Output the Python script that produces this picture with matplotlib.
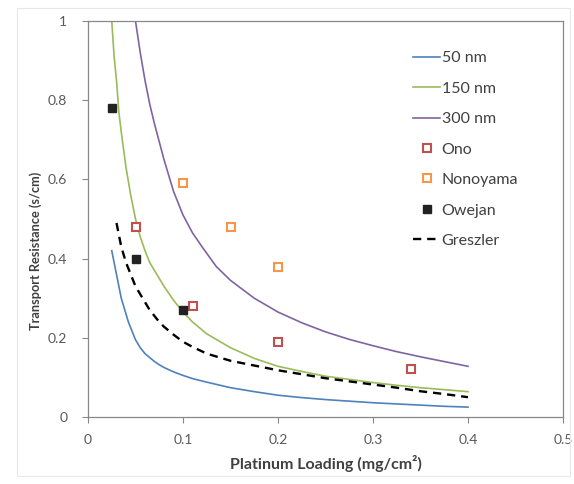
import matplotlib
matplotlib.use("Agg")
import matplotlib.pyplot as plt
from matplotlib.patches import Rectangle

plt.rcParams['font.family'] = ['Lato', 'DejaVu Sans']

# Model curves (platinum loading mg/cm2 -> transport resistance s/cm)
x_50 = [0.025, 0.0275, 0.03, 0.0325, 0.035, 0.0375, 0.04, 0.0425, 0.045, 0.0475, 0.05, 0.055, 0.06, 0.065, 0.07,
        0.075, 0.08, 0.09, 0.1, 0.11, 0.125, 0.15, 0.175, 0.2, 0.225, 0.25, 0.275, 0.3, 0.325, 0.35, 0.375, 0.4]
y_50 = [0.42, 0.39, 0.36, 0.33, 0.30, 0.28, 0.26, 0.24, 0.225, 0.21, 0.195, 0.175, 0.16, 0.15, 0.14,
        0.132, 0.125, 0.114, 0.105, 0.097, 0.088, 0.074, 0.064, 0.055, 0.049, 0.044, 0.040, 0.036, 0.033, 0.030, 0.027, 0.025]

x_150 = [0.024, 0.025, 0.0275, 0.03, 0.0325, 0.035, 0.04, 0.045, 0.05, 0.055, 0.06, 0.065, 0.07, 0.08, 0.09, 0.1,
         0.11, 0.125, 0.15, 0.175, 0.2, 0.225, 0.25, 0.275, 0.3, 0.325, 0.35, 0.375, 0.4]
y_150 = [1.04, 1.0, 0.91, 0.85, 0.77, 0.72, 0.63, 0.56, 0.50, 0.455, 0.42, 0.39, 0.37, 0.33, 0.295, 0.265,
         0.24, 0.21, 0.175, 0.148, 0.128, 0.115, 0.103, 0.095, 0.087, 0.080, 0.074, 0.069, 0.064]

x_300 = [0.048, 0.05, 0.055, 0.06, 0.065, 0.07, 0.08, 0.09, 0.1, 0.11, 0.12, 0.135, 0.15, 0.175, 0.2, 0.225,
         0.25, 0.275, 0.3, 0.325, 0.35, 0.375, 0.4]
y_300 = [1.04, 1.0, 0.92, 0.85, 0.79, 0.74, 0.65, 0.57, 0.51, 0.465, 0.43, 0.38, 0.345, 0.30, 0.265, 0.238,
         0.215, 0.196, 0.18, 0.165, 0.152, 0.14, 0.128]

x_greszler = [0.03, 0.0325, 0.035, 0.0375, 0.04, 0.045, 0.05, 0.055, 0.06, 0.065, 0.07, 0.075, 0.08, 0.09, 0.1,
              0.11, 0.125, 0.15, 0.175, 0.2, 0.225, 0.25, 0.275, 0.3, 0.325, 0.35, 0.375, 0.4]
y_greszler = [0.49, 0.46, 0.43, 0.41, 0.39, 0.36, 0.33, 0.31, 0.29, 0.27, 0.255, 0.24, 0.228, 0.208, 0.19,
              0.177, 0.16, 0.142, 0.13, 0.118, 0.108, 0.098, 0.09, 0.082, 0.074, 0.065, 0.058, 0.05]

# Experimental data
x_ono = [0.05, 0.11, 0.2, 0.34]
y_ono = [0.48, 0.28, 0.19, 0.12]

x_nonoyama = [0.1, 0.15, 0.2]
y_nonoyama = [0.59, 0.48, 0.38]

x_owejan = [0.025, 0.05, 0.1]
y_owejan = [0.78, 0.40, 0.27]

x_ticks = [0, 0.1, 0.2, 0.3, 0.4, 0.5]
y_ticks = [0, 0.2, 0.4, 0.6, 0.8, 1]

fig = plt.figure(figsize=(5.74, 4.84), dpi=100)
ax = fig.add_axes([88/574, 1-417/484, (563-88)/574, (417-21)/484])

ax.plot(x_50, y_50, color='#4F81BD', lw=1.2, label='50 nm')
ax.plot(x_150, y_150, color='#9BBB59', lw=1.2, label='150 nm')
ax.plot(x_300, y_300, color='#8064A2', lw=1.2, label='300 nm')
ax.plot(x_ono, y_ono, ls='none', marker='s', ms=5.5, mfc='white', mec='#C0504D', mew=1.5, label='Ono')
ax.plot(x_nonoyama, y_nonoyama, ls='none', marker='s', ms=5.5, mfc='white', mec='#F79646', mew=1.5, label='Nonoyama')
ax.plot(x_owejan, y_owejan, ls='none', marker='s', ms=5.5, mfc='#222222', mec='#222222', mew=1, label='Owejan')
ax.plot(x_greszler, y_greszler, color='black', lw=1.7, ls=(0, (3.5, 2.5)), label='Greszler')

ax.set_xlim(0, 0.5)
ax.set_ylim(0, 1)
ax.set_xticks(x_ticks)
ax.set_xticklabels(['0', '0.1', '0.2', '0.3', '0.4', '0.5'])
ax.set_yticks(y_ticks)
ax.set_yticklabels(['0', '0.2', '0.4', '0.6', '0.8', '1'])
ax.tick_params(direction='out', length=4, width=0.8, color='#888888', labelcolor='#595959', labelsize=10)
ax.tick_params(axis='x', pad=8)
ax.tick_params(axis='y', pad=11)
for s in ax.spines.values():
    s.set_color('#888888')
    s.set_linewidth(0.9)

ax.set_xlabel('Platinum Loading (mg/cm²)', fontsize=11.5, fontweight='bold', color='#404040')
ax.set_ylabel('Transport Resistance (s/cm)', fontsize=9.2, fontweight='bold', color='#404040')
ax.xaxis.set_label_coords(0.5, -(464-417)/396, transform=ax.transAxes)
ax.yaxis.set_label_coords(-(88-36)/475, (417-251)/396, transform=ax.transAxes)
ax.xaxis.label.set_va('center')
ax.yaxis.label.set_va('center')

leg = ax.legend(loc='upper left', bbox_to_anchor=(413/574, 1-51/484), bbox_transform=fig.transFigure,
                frameon=False, fontsize=11.5, handlelength=1.7, handletextpad=0.1, borderpad=0,
                labelspacing=1.02, borderaxespad=0, numpoints=1)
for t in leg.get_texts():
    t.set_color('#404040')

fig.patches.append(Rectangle((17/574, 8/484), (570-17)/574, (476-8)/484, transform=fig.transFigure,
                             fill=False, edgecolor='#e8e8e8', lw=0.8))

fig.savefig('out.png', dpi=100)
